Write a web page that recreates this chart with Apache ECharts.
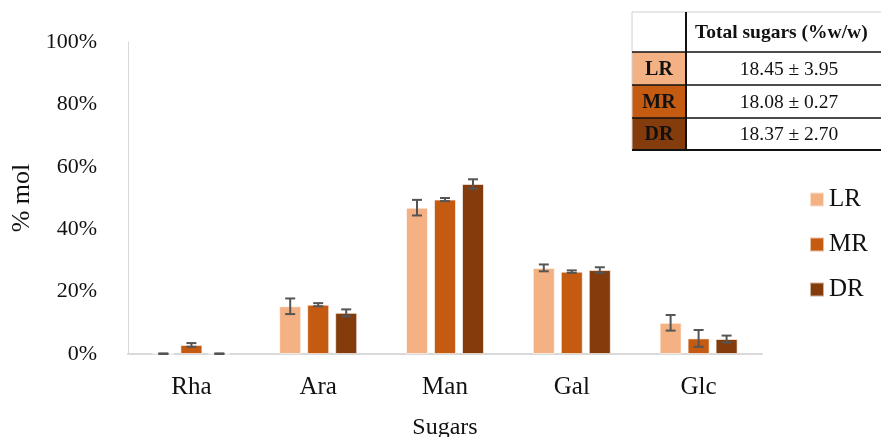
<!DOCTYPE html>
<html>
<head>
<meta charset="utf-8">
<script src="https://cdn.jsdelivr.net/npm/echarts@6/dist/echarts.min.js"></script>
<style>
  html, body { margin: 0; padding: 0; background: #fff; }
  #chart { width: 881px; height: 437px; }
</style>
</head>
<body>
<div id="chart"></div>
<script>
// data
var categories = ["Rha", "Ara", "Man", "Gal", "Glc"];
var seriesNames = ["LR", "MR", "DR"];
var colors = ["#F4B183", "#C55A11", "#843C0C"];
var lrValues = [0.1, 15.3, 46.9, 27.6, 10.0];
var mrValues = [2.9, 15.8, 49.5, 26.4, 5.0];
var drValues = [0.1, 13.2, 54.5, 26.9, 4.8];
var lrErr = [0.1, 2.5, 2.5, 1.1, 2.5];
var mrErr = [0.6, 0.5, 0.5, 0.4, 2.7];
var drErr = [0.1, 1.1, 1.5, 0.9, 1.1];
var yTicks = [0, 20, 40, 60, 80, 100];

// inset table
var tableHeader = "Total sugars (%w/w)";
var tableRows = ["LR", "MR", "DR"];
var tableValues = ["18.45 ± 3.95", "18.08 ± 0.27", "18.37 ± 2.70"];

var FONT = "'Liberation Serif', 'DejaVu Serif', serif";
var BAR_W = 22;
var BAR_GAP = 6;

var values = [lrValues, mrValues, drValues];
var errs = [lrErr, mrErr, drErr];

var myChart = echarts.init(document.getElementById("chart"));

var series = [];
seriesNames.forEach(function (name, i) {
  series.push({
    name: name,
    type: "bar",
    data: values[i],
    barWidth: BAR_W,
    barGap: (BAR_GAP / BAR_W * 100) + "%",
    itemStyle: { color: colors[i], borderColor: "rgba(255,255,255,0.6)", borderWidth: 1 },
    emphasis: { disabled: true },
  });
});

// error bars
seriesNames.forEach(function (name, i) {
  var errData = values[i].map(function (v, k) {
    return [k, v - errs[i][k], v + errs[i][k]];
  });
  series.push({
    type: "custom",
    name: name + "_err",
    data: errData,
    z: 10,
    silent: true,
    renderItem: function (params, api) {
      var idx = api.value(0);
      var lo = api.coord([idx, Math.max(api.value(1), 0)]);
      var hi = api.coord([idx, api.value(2)]);
      var x = lo[0] + (i - 1) * (BAR_W + BAR_GAP);
      var cap = 5;
      var style = { stroke: "#555555", lineWidth: 2 };
      return {
        type: "group",
        children: [
          { type: "line", shape: { x1: x, y1: lo[1], x2: x, y2: hi[1] }, style: style },
          { type: "line", shape: { x1: x - cap, y1: lo[1], x2: x + cap, y2: lo[1] }, style: style },
          { type: "line", shape: { x1: x - cap, y1: hi[1], x2: x + cap, y2: hi[1] }, style: style },
        ],
      };
    },
    encode: { x: 0, y: [1, 2] },
  });
});

// table graphic
var tx = 632, c1 = 686, tr = 881;
var rowY = [12, 52, 85, 118, 150];
var graphic = [];
graphic.push({ type: "rect", shape: { x: tx, y: rowY[0], width: tr - tx, height: rowY[4] - rowY[0] }, style: { fill: "#fff", stroke: null }, z: 1 });
tableRows.forEach(function (r, k) {
  graphic.push({ type: "rect", shape: { x: tx, y: rowY[k + 1], width: c1 - tx, height: rowY[k + 2] - rowY[k + 1] }, style: { fill: colors[k] }, z: 2 });
  graphic.push({ type: "text", x: (tx + c1) / 2, y: (rowY[k + 1] + rowY[k + 2]) / 2 + 1, style: { text: r, font: "bold 20px " + FONT, fill: "#111", align: "center", verticalAlign: "middle" }, z: 5 });
  graphic.push({ type: "text", x: 789, y: (rowY[k + 1] + rowY[k + 2]) / 2 + 1, style: { text: tableValues[k], font: "19.5px " + FONT, fill: "#111", align: "center", verticalAlign: "middle" }, z: 5 });
});
graphic.push({ type: "text", x: 695, y: (rowY[0] + rowY[1]) / 2 + 1, style: { text: tableHeader, font: "bold 19.5px " + FONT, fill: "#111", align: "left", verticalAlign: "middle" }, z: 5 });
// grid lines of the table
graphic.push({ type: "line", shape: { x1: tx, y1: rowY[0], x2: tr, y2: rowY[0] }, style: { stroke: "#d0d0d0", lineWidth: 1 }, z: 4 });
graphic.push({ type: "line", shape: { x1: tx, y1: rowY[0], x2: tx, y2: rowY[4] }, style: { stroke: "#d0d0d0", lineWidth: 1 }, z: 4 });
for (var k = 1; k < 5; k++) {
  graphic.push({ type: "line", shape: { x1: tx, y1: rowY[k], x2: tr, y2: rowY[k] }, style: { stroke: "#111", lineWidth: k === 4 ? 2 : 1.5 }, z: 4 });
}
graphic.push({ type: "line", shape: { x1: c1, y1: rowY[0], x2: c1, y2: rowY[4] }, style: { stroke: "#111", lineWidth: 2 }, z: 4 });

var option = {
  animation: false,
  backgroundColor: "#fff",
  textStyle: { fontFamily: FONT },
  grid: { left: 128, right: 119, top: 42, bottom: 83, outerBoundsMode: "none", containLabel: false },
  legend: {
    data: seriesNames,
    orient: "vertical",
    left: 804,
    top: 182,
    itemWidth: 14,
    itemHeight: 14,
    itemGap: 20,
    icon: "rect",
    textStyle: { fontFamily: FONT, fontSize: 25, color: "#111" },
  },
  xAxis: {
    type: "category",
    data: categories,
    name: "Sugars",
    nameLocation: "middle",
    nameGap: 62,
    nameTextStyle: { fontFamily: FONT, fontSize: 24, color: "#111" },
    axisTick: { show: false },
    axisLine: { show: true, lineStyle: { color: "#d9d9d9", width: 2 } },
    axisLabel: { fontFamily: FONT, fontSize: 25, color: "#111", margin: 21 },
  },
  yAxis: {
    type: "value",
    min: 0,
    max: 100,
    interval: 20,
    name: "% mol",
    nameLocation: "middle",
    nameGap: 91,
    nameRotate: 90,
    nameTextStyle: { fontFamily: FONT, fontSize: 26, color: "#111" },
    axisLine: { show: true, lineStyle: { color: "#d9d9d9", width: 1 } },
    axisTick: { show: false },
    splitLine: { show: false },
    axisLabel: {
      fontFamily: FONT, fontSize: 22, color: "#111", margin: 31,
      formatter: function (v) { return yTicks.indexOf(v) >= 0 ? v + "%" : ""; },
    },
  },
  series: series,
  graphic: graphic,
};

option && myChart.setOption(option, true);
</script>
</body>
</html>
